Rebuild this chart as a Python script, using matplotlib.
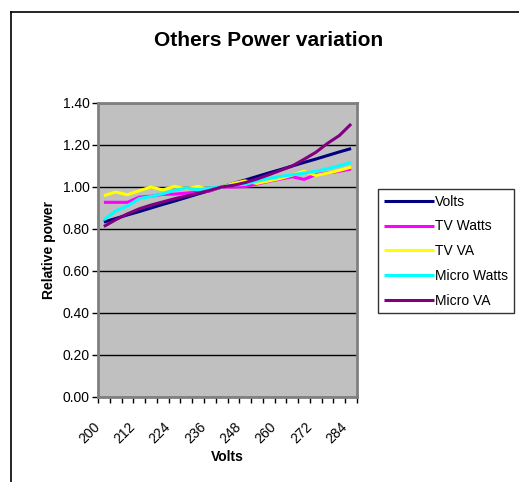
import matplotlib.pyplot as plt
import matplotlib.transforms as mtransforms

# categories (supply voltage)
volts_cat = [200, 204, 208, 212, 216, 220, 224, 228, 232, 236, 240,
             244, 248, 252, 256, 260, 264, 268, 272, 276, 280, 284]

volts = [0.833, 0.850, 0.867, 0.883, 0.900, 0.917, 0.933, 0.950, 0.967, 0.983, 1.000,
         1.017, 1.033, 1.050, 1.067, 1.083, 1.100, 1.117, 1.133, 1.150, 1.167, 1.183]
tv_watts = [0.927, 0.927, 0.927, 0.952, 0.956, 0.965, 0.966, 0.971, 0.976, 0.981, 1.000,
            1.000, 1.002, 1.014, 1.027, 1.038, 1.049, 1.036, 1.059, 1.067, 1.075, 1.086]
tv_va = [0.959, 0.976, 0.963, 0.982, 1.000, 0.986, 1.003, 0.991, 1.003, 0.985, 1.000,
         1.017, 1.029, 1.017, 1.029, 1.041, 1.057, 1.075, 1.055, 1.066, 1.079, 1.095]
micro_watts = [0.844, 0.886, 0.910, 0.945, 0.955, 0.968, 0.984, 0.995, 0.987, 0.995, 1.000,
               1.010, 1.012, 1.028, 1.040, 1.050, 1.058, 1.066, 1.075, 1.087, 1.101, 1.117]
micro_va = [0.812, 0.844, 0.872, 0.896, 0.914, 0.929, 0.944, 0.957, 0.970, 0.984, 1.000,
            1.008, 1.021, 1.038, 1.058, 1.079, 1.100, 1.132, 1.165, 1.208, 1.245, 1.300]

series = [
    ('Volts', volts, '#000080'),
    ('TV Watts', tv_watts, '#FF00FF'),
    ('TV VA', tv_va, '#FFFF00'),
    ('Micro Watts', micro_watts, '#00FFFF'),
    ('Micro VA', micro_va, '#800080'),
]

plt.rcParams['font.family'] = ['Liberation Sans', 'DejaVu Sans']

W, H = 519, 482
fig = plt.figure(figsize=(W / 100, H / 100), dpi=100)
fig.patch.set_facecolor('white')

# outer chart frame (top and left edges visible)
fig.add_artist(plt.Line2D([11 / W, 11 / W], [0, 1 - 12 / H], color='black', lw=1.2))
fig.add_artist(plt.Line2D([11 / W, 1], [1 - 12 / H, 1 - 12 / H], color='black', lw=1.2))

ax = fig.add_axes([98 / W, (H - 397) / H, (357 - 98) / W, (397 - 103) / H])
ax.set_facecolor('#C0C0C0')
for s in ax.spines.values():
    s.set_color('#808080')
    s.set_linewidth(2)

x = list(range(len(volts_cat)))
for name, vals, col in series:
    ax.plot(x, vals, color=col, lw=2.2, label=name, solid_capstyle='butt')

ax.set_ylim(0, 1.4)
ax.set_yticks([0.0, 0.2, 0.4, 0.6, 0.8, 1.0, 1.2, 1.4])
ax.set_yticklabels([f'{v:.2f}' for v in ax.get_yticks()], fontsize=10)
ax.yaxis.grid(True, color='black', lw=1)
ax.set_axisbelow(True)
ax.tick_params(axis='y', length=4, width=1, color='black', pad=2)

ax.set_xlim(-0.5, len(volts_cat) - 0.5)
ax.set_xticks([i - 0.5 for i in range(len(volts_cat) + 1)], minor=True)
ax.set_xticks(x[::3])
ax.set_xticklabels([str(v) for v in volts_cat[::3]], rotation=45,
                   ha='right', va='top', rotation_mode='anchor', fontsize=10)
ax.tick_params(axis='x', which='major', length=0, pad=16)
ax.tick_params(axis='x', which='minor', length=4, width=1, color='black')
shift = mtransforms.ScaledTranslation(-11 / 100, 0, fig.dpi_scale_trans)
for lbl in ax.get_xticklabels():
    lbl.set_transform(lbl.get_transform() + shift)

ax.set_xlabel('Volts', fontsize=10, fontweight='bold', labelpad=3)
ax.set_ylabel('Relative power', fontsize=10, fontweight='bold', labelpad=5)

fig.text(269 / W, 1 - 41 / H, 'Others Power variation', fontsize=15,
         fontweight='bold', ha='center', va='center')

leg = ax.legend(loc='upper left', bbox_to_anchor=(378 / W, 1 - 189 / H),
                bbox_transform=fig.transFigure, fontsize=10, frameon=True,
                fancybox=False, edgecolor='black', handlelength=3.6,
                handletextpad=0.1, borderpad=0.4, labelspacing=0.78,
                borderaxespad=0)
leg.get_frame().set_linewidth(1)

fig.savefig('out.png', dpi=100)
